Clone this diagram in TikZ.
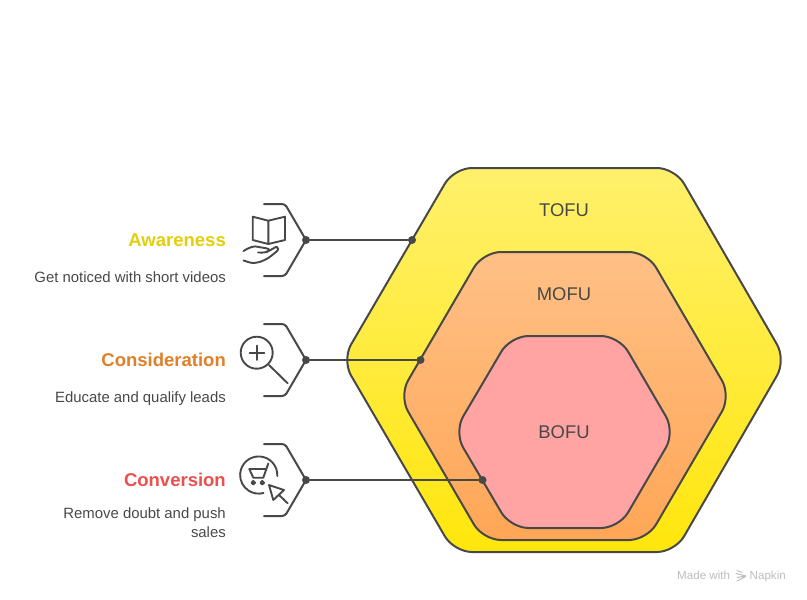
\documentclass[tikz,border=0pt]{standalone}
\usepackage{fontspec}
\setmainfont{Liberation Sans}
\definecolor{inkgray}{HTML}{484848}
\definecolor{awarecol}{HTML}{E3CE0A}
\definecolor{considercol}{HTML}{E07F2A}
\definecolor{convertcol}{HTML}{E9504E}
\definecolor{markgray}{HTML}{BDBDBD}
\tikzset{
	hexa/.style={draw=inkgray,line width=2pt,rounded corners=#1},
	line/.style={draw=inkgray,line width=2pt},
	icon/.style={draw=inkgray,line width=1.9pt},
	dot/.style={circle,fill=inkgray,inner sep=0pt,minimum size=8pt},
	tag/.style={text=inkgray,font=\fontsize{18.4}{20}\selectfont},
	title/.style={anchor=east,inner sep=0pt,font=\fontsize{18.5}{20}\selectfont\bfseries},
	desc/.style={anchor=north east,inner sep=0pt,align=right,text=inkgray,font=\fontsize{14.9}{19}\selectfont},
	stamp/.style={inner sep=0pt,text=markgray,font=\fontsize{11.6}{13}\selectfont}
}
\begin{document}
\begin{tikzpicture}[x=1pt,y=-1pt,line join=round,line cap=round]
	\useasboundingbox (0,0) rectangle (807,600);
	% hexagons
	\path[hexa=18pt,top color={rgb,255:red,255;green,240;blue,108},bottom color={rgb,255:red,255;green,230;blue,12}] (454,168)--(675,168)--(786,360)--(675,552)--(454,552)--(342,360)--cycle;
	\path[hexa=18pt,top color={rgb,255:red,255;green,192;blue,134},bottom color={rgb,255:red,255;green,166;blue,86}] (483,252)--(647,252)--(731,396)--(647,540)--(483,540)--(399,396)--cycle;
	\path[hexa=18pt,fill={rgb,255:red,255;green,163;blue,163}] (510.5,336)--(619,336)--(675,432)--(619,528)--(510.5,528)--(454,432)--cycle;
	\node[tag] (tofu) at (564,210) {TOFU};
	\node[tag] (mofu) at (564,294) {MOFU};
	\node[tag] (bofu) at (564,432) {BOFU};
	% brackets and connectors
	\node[dot] (awareL) at (306,240) {};
	\node[dot] (awareR) at (412,240) {};
	\node[dot] (considerL) at (306,360) {};
	\node[dot] (considerR) at (420.5,360) {};
	\node[dot] (convertL) at (306,480) {};
	\node[dot] (convertR) at (482.5,480) {};
	\draw[line] (awareL)--(awareR);
	\draw[line] (considerL)--(considerR);
	\draw[line] (convertL)--(convertR);
	\draw[line,rounded corners=3pt] (264,204)--(285,204)--(306,240)--(285,276)--(264,276);
	\draw[line,rounded corners=3pt] (264,324)--(285,324)--(306,360)--(285,396)--(264,396);
	\draw[line,rounded corners=3pt] (264,444)--(285,444)--(306,480)--(285,516)--(264,516);
	% labels
	\node[title,text=awarecol] (awaretitle) at (226,240) {Awareness};
	\node[desc] (awaredesc) at (226,271) {Get noticed with short videos};
	\node[title,text=considercol] (considertitle) at (226,360) {Consideration};
	\node[desc] (considerdesc) at (226,391) {Educate and qualify leads};
	\node[title,text=convertcol] (converttitle) at (226,480) {Conversion};
	\node[desc] (convertdesc) at (226,507) {Remove doubt and push\\sales};
	% book icon
	\draw[icon] (268.3,220.7)--(252.7,216.7)--(252.7,240)--(268.3,244)--(285,240)--(285,216.7)--cycle (268.3,220.7)--(268.3,244);
	\draw[icon] (243.5,251)..controls (250,247) and (254,245.5) .. (259,247)..controls (263,248) and (268,248) .. (269,249.5)..controls (270,252) and (264,253) .. (258,252.5);
	\draw[icon] (266,252)..controls (272,250) and (276,246) .. (277,247)..controls (279,248) and (278.5,250) .. (276,252)..controls (270,257) and (264,262) .. (254,263)..controls (250,263) and (247,261.5) .. (243.5,260.5);
	% magnifier icon
	\draw[icon] (256.7,352.7) circle (16);
	\draw[icon] (249.7,352.7)--(264.3,352.7) (257,345.5)--(257,360);
	\draw[icon] (269,365)--(287.7,383.3);
	% cart icon
	\draw[icon] (277.3,476) arc[start angle=3,end angle=-285,radius=18.6];
	\draw[icon] (268.3,463.5)--(263.3,477.7)--(253.3,477.7)--(249.3,469)--(265.8,469);
	\draw[icon] (253.3,482.7) circle (1.8) (262.3,482.7) circle (1.8);
	\draw[icon] (269,485)--(284,490)--(273.3,500)--cycle (278.5,494.5)--(287.7,503.3);
	% watermark
	\node[stamp,anchor=base west] (madewith) at (677,579.5) {Made with};
	\node[stamp,anchor=base east] (napkin) at (786,579.5) {Napkin};
	\draw[markgray,line width=1pt] (737,570.5)--(742,572.5) (736,573.5)--(746,576)--(737,577.5) (745,577)--(737,581);
\end{tikzpicture}
\end{document}
